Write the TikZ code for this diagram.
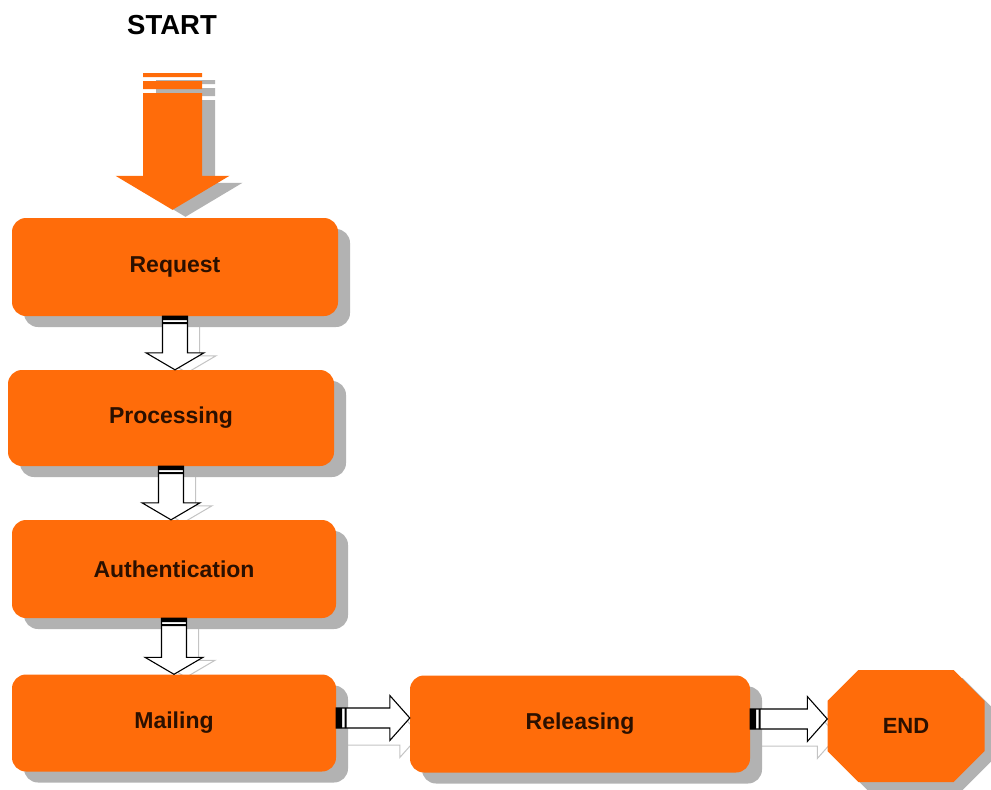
\documentclass[tikz,border=0pt]{standalone}
\usepackage{fontspec}
\setmainfont{Liberation Sans}
\usetikzlibrary{calc,shadows,shapes.misc}
\pgfdeclarelayer{background}
\pgfsetlayers{background,main}
\definecolor{org}{HTML}{FF6C0A}
\definecolor{shd}{HTML}{B2B2B2}
\definecolor{lshd}{HTML}{C4C4C4}
\definecolor{txt}{HTML}{2B1000}
\tikzset{
  box/.style={fill=org, rounded corners=14pt, inner sep=0pt,
    font=\fontsize{23}{27}\selectfont\bfseries, text=txt,
    drop shadow={shadow xshift=12pt, shadow yshift=-11pt, fill=shd, opacity=1}},
  octa/.style={chamfered rectangle, chamfered rectangle xsep=25pt, chamfered rectangle ysep=24pt,
    fill=org, inner sep=0pt, minimum width=157pt, minimum height=112pt,
    font=\fontsize{22}{26}\selectfont\bfseries, text=txt,
    drop shadow={shadow xshift=9pt, shadow yshift=-8pt, fill=shd, opacity=1}},
  arrowmain/.style={draw=black, fill=white, line width=1.1pt, line join=miter},
  arrowshadow/.style={draw=lshd, fill=white, line width=1pt},
}
% vertical block arrow from #1 (top) to #2 (tip)
\newcommand\vArrowShape[2]{let \p1=(#1), \p2=(#2) in
  (\x1-12.5pt,\y1) -- (\x1-12.5pt,\y2+17pt) -- (\x1-29pt,\y2+17pt) -- (\x1,\y2)
  -- (\x1+29pt,\y2+17pt) -- (\x1+12.5pt,\y2+17pt) -- (\x1+12.5pt,\y1) -- cycle}
\newcommand\vArrowStripes[1]{let \p1=(#1) in
  (\x1-12.5pt,\y1) rectangle (\x1+12.5pt,\y1-4pt)
  (\x1-12.5pt,\y1-6pt) rectangle (\x1+12.5pt,\y1-8pt)}
% horizontal block arrow from #1 (left) to #2 (tip)
\newcommand\hArrowShape[2]{let \p1=(#1), \p2=(#2) in
  (\x1,\y1+15pt) -- (\x2-20pt,\y1+15pt) -- (\x2-20pt,\y1+27.5pt) -- (\x2,\y1+5pt)
  -- (\x2-20pt,\y1-17.5pt) -- (\x2-20pt,\y1-5pt) -- (\x1,\y1-5pt) -- cycle}
\newcommand\hArrowStripes[1]{let \p1=(#1) in
  (\x1,\y1+15pt) rectangle (\x1+6pt,\y1-5pt)
  (\x1+8.5pt,\y1+15pt) rectangle (\x1+10.5pt,\y1-5pt)}
% big start arrow from #1 (top) to #2 (node it points at)
\newcommand\bigArrowShape[2]{let \p1=(#1), \p2=(#2) in
  (\x1-29.5pt,\y1) rectangle (\x1+29.5pt,\y1-4pt)
  (\x1-29.5pt,\y1-8pt) rectangle (\x1+29.5pt,\y1-16pt)
  (\x1-29.5pt,\y1-20pt) -- (\x1-29.5pt,\y2+42pt) -- (\x1-57pt,\y2+42pt) -- (\x1,\y2+8pt)
  -- (\x1+57pt,\y2+42pt) -- (\x1+29.5pt,\y2+42pt) -- (\x1+29.5pt,\y1-20pt) -- cycle}
\begin{document}
\begin{tikzpicture}[x=1pt,y=-1pt]
\useasboundingbox (0,0) rectangle (991,790);

\node[font=\fontsize{27.5}{32}\selectfont\bfseries, text=black] (start) at (172,25) {START};
\coordinate (atop) at (172.5,73);

\node[box, minimum width=326pt, minimum height=98pt] (req)  at (175,267) {Request};
\node[box, minimum width=326pt, minimum height=96pt] (proc) at (171,418) {Processing};
\node[box, minimum width=324pt, minimum height=98pt] (auth) at (174,569) {Authentication};
\node[box, minimum width=324pt, minimum height=97pt] (mail) at (174,723) {Mailing};
\node[box, minimum width=340pt, minimum height=97pt] (rel)  at (580,724) {Releasing};
\node[octa] (endn) at (906,726) {END};

% START arrow
\fill[shd, transform canvas={xshift=13pt, yshift=-7pt}] \bigArrowShape{atop}{req.north};
\fill[org] \bigArrowShape{atop}{req.north};

% vertical connectors
\foreach \a/\b in {req/proc, proc/auth, auth/mail}{
  \begin{pgfonlayer}{background}
  \draw[arrowshadow, transform canvas={xshift=12pt, yshift=-3pt}] \vArrowShape{\a.south}{\b.north};
  \end{pgfonlayer}
  \draw[arrowmain] \vArrowShape{\a.south}{\b.north};
  \fill[black] \vArrowStripes{\a.south};
}

% horizontal connectors
\begin{pgfonlayer}{background}
\draw[arrowshadow, transform canvas={xshift=10pt, yshift=-17pt}] \hArrowShape{mail.east}{rel.west};
\draw[arrowshadow, transform canvas={xshift=10pt, yshift=-17pt}] \hArrowShape{rel.east}{endn.west};
\end{pgfonlayer}
\draw[arrowmain] \hArrowShape{mail.east}{rel.west};
\fill[black] \hArrowStripes{mail.east};
\draw[arrowmain] \hArrowShape{rel.east}{endn.west};
\fill[black] \hArrowStripes{rel.east};
\end{tikzpicture}
\end{document}
